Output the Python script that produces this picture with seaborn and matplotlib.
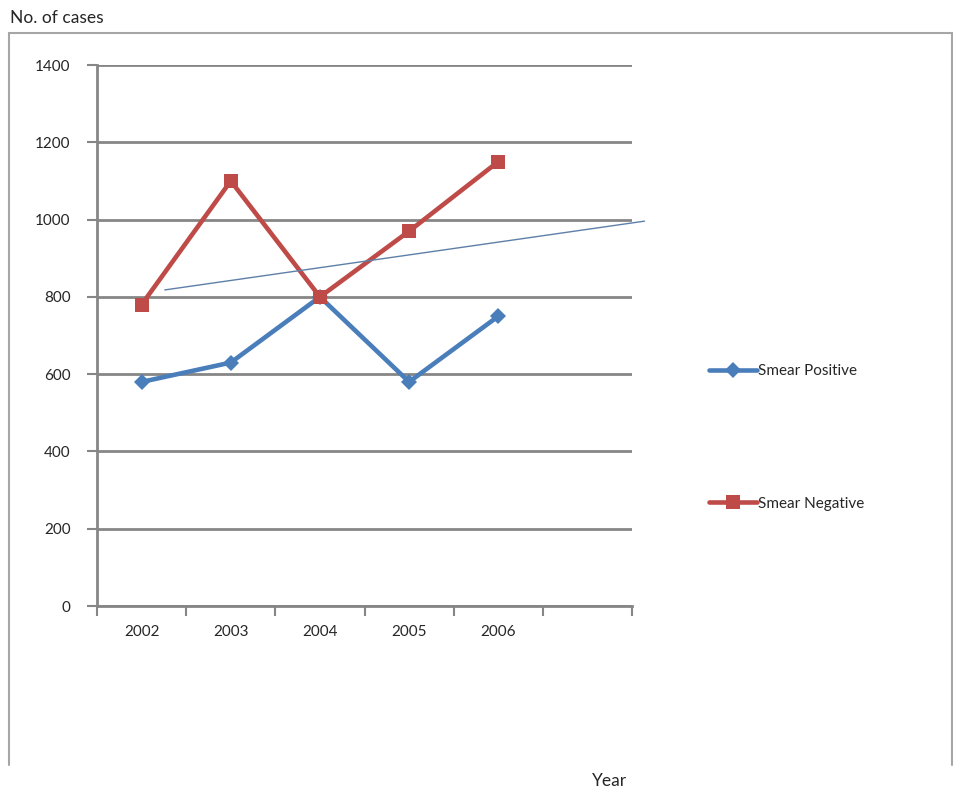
import seaborn as sns
import pandas as pd
import numpy as np
from matplotlib import pyplot as plt
from matplotlib.lines import Line2D

# values
years = ["2002", "2003", "2004", "2005", "2006"]
smear_pos = [580, 630, 800, 580, 750]
smear_neg = [780, 1100, 800, 970, 1150]
trend_x = [0.26, 5.64]   # thin trend line, in category units
trend_y = [818, 996]
y_ticks = [0, 200, 400, 600, 800, 1000, 1200, 1400]

df = pd.DataFrame({
    "idx": list(range(len(years))) * 2,
    "cases": smear_pos + smear_neg,
    "series": ["Smear Positive"] * len(years) + ["Smear Negative"] * len(years),
})

sns.set_theme(style="white")
plt.rcParams["font.family"] = ["Lato", "DejaVu Sans"]

blue = "#4A7EBB"
red = "#BE4B48"
grid_c = "#868686"

fig = plt.figure(figsize=(9.54, 7.95), dpi=100)
ax = fig.add_axes([0.1017, 0.2377, 0.5608, 0.6805])

sns.lineplot(data=df, x="idx", y="cases", hue="series", style="series",
             palette={"Smear Positive": blue, "Smear Negative": red},
             markers={"Smear Positive": "D", "Smear Negative": "s"},
             dashes=False, linewidth=3.3, markersize=9, markeredgewidth=0,
             legend=False, ax=ax, zorder=3)
# make square markers a bit bigger than diamonds
for ln in ax.lines:
    if ln.get_marker() == "s":
        ln.set_markersize(10.5)
    else:
        ln.set_markersize(8)

ax.plot(trend_x, trend_y, color="#5E7FA8", linewidth=1, clip_on=False, zorder=4)

ax.set_xlim(-0.5, 5.5)
ax.set_ylim(0, 1400)
ax.set_yticks(y_ticks)
ax.set_yticklabels([str(v) for v in y_ticks], fontsize=11)
ax.set_xticks(range(len(years)))
ax.set_xticklabels(years, fontsize=11)
ax.set_xticks(np.arange(-0.5, 6.0, 1.0), minor=True)
ax.tick_params(axis="x", which="major", bottom=True, length=0, pad=14)
ax.tick_params(axis="x", which="minor", bottom=True, length=7, width=1.5, color=grid_c, direction="out")
ax.tick_params(axis="y", which="major", left=True, length=7, width=1.5, color=grid_c, direction="out", pad=12)
ax.yaxis.grid(True, color=grid_c, linewidth=2)
ax.set_axisbelow(True)
ax.set_xlabel("")
ax.set_ylabel("")
for side in ["top", "right"]:
    ax.spines[side].set_visible(False)
for side in ["left", "bottom"]:
    ax.spines[side].set_color(grid_c)
    ax.spines[side].set_linewidth(2)

# legend on the right, widely spaced like the original
handles = [
    Line2D([], [], color=blue, linewidth=3.3, marker="D", markersize=8, markeredgewidth=0),
    Line2D([], [], color=red, linewidth=3.3, marker="s", markersize=10.5, markeredgewidth=0),
]
fig.legend(handles, ["Smear Positive", "Smear Negative"], loc="upper left",
           bbox_to_anchor=(0.729, 0.559), frameon=False, fontsize=11,
           handlelength=3.1, handletextpad=0.1, labelspacing=7.75)

# outer chart frame (top, left, right)
fig.add_artist(Line2D([0.009, 0.998], [0.958, 0.958], color="#A6A6A6", linewidth=1.5))
fig.add_artist(Line2D([0.009, 0.009], [0.958, 0.038], color="#A6A6A6", linewidth=1.5))
fig.add_artist(Line2D([0.998, 0.998], [0.958, 0.038], color="#A6A6A6", linewidth=1.5))

fig.text(0.011, 0.977, "No. of cases", fontsize=12.5, va="center", ha="left")
fig.text(0.639, 0.018, "Year", fontsize=12.5, va="center", ha="center")

fig.savefig("out.png", dpi=100, facecolor="white")
